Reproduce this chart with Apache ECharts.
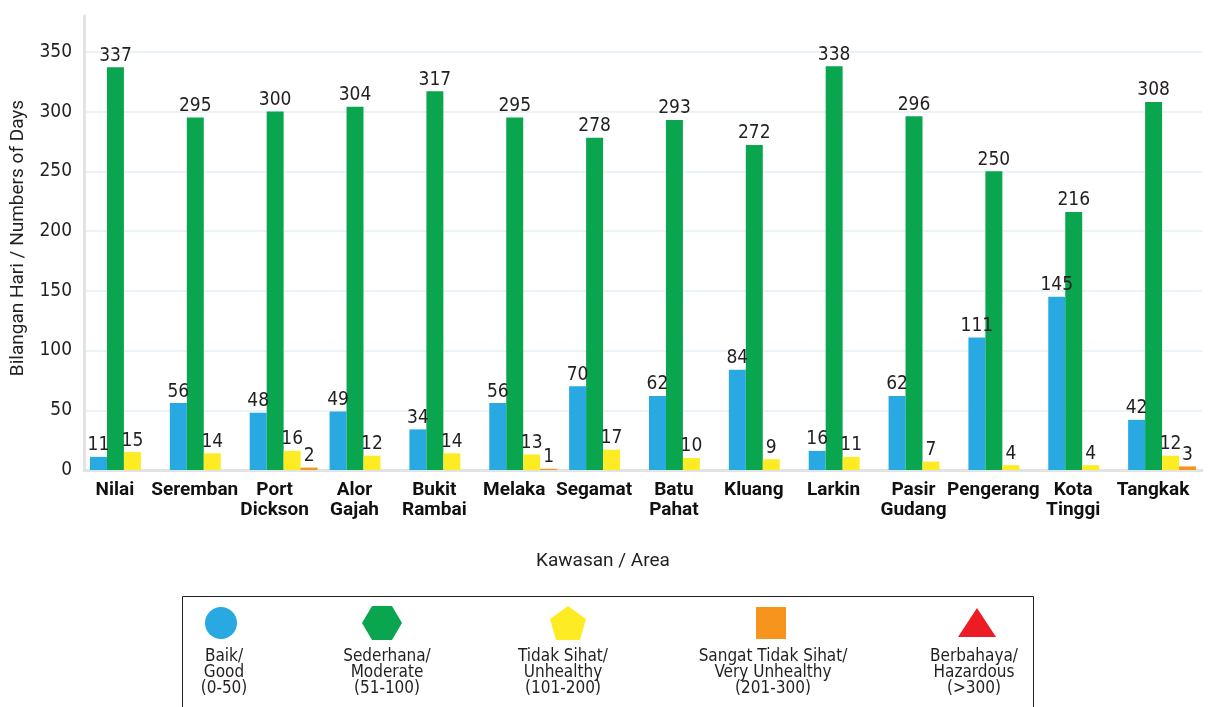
<!DOCTYPE html>
<html>
<head>
<meta charset="utf-8">
<script src="https://cdn.jsdelivr.net/npm/echarts@6/dist/echarts.min.js"></script>
<style>
  html, body { margin: 0; padding: 0; background: #fff; }
  #container { width: 1209px; height: 707px; }
</style>
</head>
<body>
<div id="container"></div>
<script>
var kawasan = ['Nilai', 'Seremban', 'Port\nDickson', 'Alor\nGajah', 'Bukit\nRambai', 'Melaka', 'Segamat',
               'Batu\nPahat', 'Kluang', 'Larkin', 'Pasir\nGudang', 'Pengerang', 'Kota\nTinggi', 'Tangkak'];
var baik = [11, 56, 48, 49, 34, 56, 70, 62, 84, 16, 62, 111, 145, 42];
var sederhana = [337, 295, 300, 304, 317, 295, 278, 293, 272, 338, 296, 250, 216, 308];
var tidakSihat = [15, 14, 16, 12, 14, 13, 17, 10, 9, 11, 7, 4, 4, 12];
var sangatTidakSihat = [0, 0, 2, 0, 0, 1, 0, 0, 0, 0, 0, 0, 0, 3];
var berbahaya = [0, 0, 0, 0, 0, 0, 0, 0, 0, 0, 0, 0, 0, 0];
var yTicks = [0, 50, 100, 150, 200, 250, 300, 350];

var numFont = '"DejaVu Sans Condensed", "DejaVu Sans", sans-serif';
var warna = ['#29a9e1', '#0aa64f', '#fdec24', '#f7941d', '#ed1c24'];
var nama = ['Baik/\nGood\n(0-50)', 'Sederhana/\nModerate\n(51-100)', 'Tidak Sihat/\nUnhealthy\n(101-200)',
            'Sangat Tidak Sihat/\nVery Unhealthy\n(201-300)', 'Berbahaya/\nHazardous\n(>300)'];

var dom = document.getElementById('container');
var myChart = echarts.init(dom);

function barSeries(name, data, color, stack) {
    return {
        name: name,
        type: 'bar',
        stack: stack,
        data: data,
        barGap: '0%',
        barCategoryGap: '15%',
        itemStyle: { color: color },
        label: {
            show: true,
            position: 'top',
            distance: 2,
            color: '#231f20',
            fontFamily: numFont,
            fontSize: 19,
            formatter: function (p) { return p.value ? p.value : ''; }
        }
    };
}

// legend box drawn by hand: icon above 3 lines of text
var ikonX = [221, 382, 568, 771, 977];
var teksX = [224, 387, 563, 773, 974];
var legendEls = [{
    type: 'rect',
    shape: { x: 182.5, y: 596.5, width: 851, height: 120 },
    style: { fill: 'none', stroke: '#231f20', lineWidth: 1 }
}];
legendEls.push({ type: 'circle', shape: { cx: ikonX[0], cy: 623, r: 16 }, style: { fill: warna[0] } });
legendEls.push({ type: 'polygon', shape: { points: [[ikonX[1] - 20, 623], [ikonX[1] - 10, 606], [ikonX[1] + 10, 606], [ikonX[1] + 20, 623], [ikonX[1] + 10, 640], [ikonX[1] - 10, 640]] }, style: { fill: warna[1] } });
legendEls.push({ type: 'polygon', shape: { points: [[ikonX[2], 606], [ikonX[2] + 18, 619], [ikonX[2] + 12, 640], [ikonX[2] - 12, 640], [ikonX[2] - 18, 619]] }, style: { fill: warna[2] } });
legendEls.push({ type: 'rect', shape: { x: ikonX[3] - 15, y: 607, width: 30, height: 32 }, style: { fill: warna[3] } });
legendEls.push({ type: 'polygon', shape: { points: [[ikonX[4], 608], [ikonX[4] + 19, 637], [ikonX[4] - 19, 637]] }, style: { fill: warna[4] } });
for (var i = 0; i < nama.length; i++) {
    legendEls.push({
        type: 'text',
        x: teksX[i],
        y: 649,
        style: {
            text: nama[i],
            fill: '#231f20',
            font: '17px ' + numFont,
            align: 'center',
            verticalAlign: 'top',
            lineHeight: 16
        }
    });
}

option = {
    animation: false,
    backgroundColor: '#fff',
    grid: { left: 84, right: 7, top: 16, bottom: 237, containLabel: false, outerBoundsMode: 'none' },
    xAxis: {
        type: 'category',
        data: kawasan,
        name: 'Kawasan / Area',
        nameLocation: 'middle',
        nameGap: 82,
        nameTextStyle: { color: '#231f20', fontSize: 19, fontFamily: 'Roboto', padding: [0, 80, 0, 0] },
        axisLine: { lineStyle: { color: '#e3e3e3', width: 3 } },
        axisTick: { show: false },
        axisLabel: {
            color: '#111',
            fontFamily: 'Roboto',
            fontWeight: 'bold',
            fontSize: 19,
            lineHeight: 20,
            margin: 10,
            padding: [0, 18, 0, 0],
            interval: 0
        }
    },
    yAxis: {
        type: 'value',
        min: yTicks[0],
        max: 380,
        interval: 50,
        name: 'Bilangan Hari / Numbers of Days',
        nameLocation: 'middle',
        nameGap: 56,
        nameTextStyle: { color: '#231f20', fontSize: 19, fontFamily: 'Roboto', padding: [0, 0, 0, 10] },
        axisLine: { show: true, lineStyle: { color: '#e3e3e3', width: 3 } },
        axisTick: { show: false },
        axisLabel: {
            color: '#231f20',
            fontFamily: numFont,
            fontSize: 19,
            margin: 12,
            showMaxLabel: false
        },
        splitLine: { showMaxLine: false, lineStyle: { color: '#eaf3f7', width: 2 } }
    },
    graphic: legendEls,
    series: [
        barSeries('Baik', baik, warna[0]),
        barSeries('Sederhana', sederhana, warna[1]),
        barSeries('Tidak Sihat', tidakSihat, warna[2]),
        barSeries('Sangat Tidak Sihat', sangatTidakSihat, warna[3], 'tinggi'),
        barSeries('Berbahaya', berbahaya, warna[4], 'tinggi')
    ]
};

if (option && typeof option === 'object') {
    myChart.setOption(option, true);
}
</script>
</body>
</html>
